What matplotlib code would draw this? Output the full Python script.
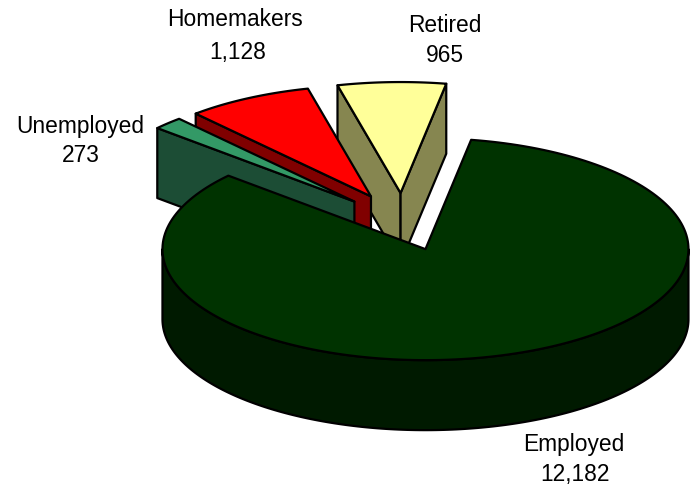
import numpy as np
import matplotlib
matplotlib.use("Agg")
import matplotlib.pyplot as plt
from matplotlib.patches import Polygon

plt.rcParams['font.family'] = ['Liberation Sans', 'DejaVu Sans']

names = ['Employed', 'Unemployed', 'Homemakers', 'Retired']
counts = [12182, 273, 1128, 965]

top_colors = ['#003300', '#339966', '#FF0000', '#FFFF99']
wall_colors = ['#001A00', '#1C4D35', '#800000', '#868650']

# pie geometry in pixels
cx, cy = 402.9, 222.9
rx, ry = 263, 111
depth = 70
explode = 0.26
start_angle = 80

fig = plt.figure(figsize=(6.9, 4.89), dpi=100)
ax = fig.add_axes([0, 0, 1, 1])
ax.set_xlim(0, 690)
ax.set_ylim(489, 0)
ax.axis('off')

total = sum(counts)
sweeps = [c / total * 360 for c in counts]
stops = start_angle - np.cumsum([0] + sweeps)


def arc(x0, y0, a1, a2):
    t = np.radians(np.linspace(a1, a2, 200))
    return np.column_stack([x0 + rx * np.cos(t), y0 - ry * np.sin(t)])


def face(pts, color):
    ax.add_patch(Polygon(pts, closed=True, facecolor=color, edgecolor='black',
                         linewidth=1.6, joinstyle='round'))


def draw_slice(i):
    a1, a2 = stops[i], stops[i + 1]
    mid = np.radians((a1 + a2) / 2)
    x0 = cx + explode * rx * np.cos(mid)
    y0 = cy - explode * ry * np.sin(mid)
    edge = arc(x0, y0, a1, a2)
    apex = np.array([x0, y0])
    down = np.array([0, depth])

    if i == 0:
        # only the front rim shows on the big slice
        rim = arc(x0, y0, -180, 0)
        face(np.vstack([rim, (rim + down)[::-1]]), wall_colors[i])
    elif i == 3:
        # retired shows both cut faces
        for corner in (edge[0], edge[-1]):
            face([apex, corner, corner + down, apex + down], wall_colors[i])
    else:
        corner = edge[0]
        face([apex, corner, corner + down, apex + down], wall_colors[i])
    face(np.vstack([apex, edge]), top_colors[i])


# back slices first, the big one goes over them
for i in [3, 2, 1, 0]:
    draw_slice(i)

label_pos = [(574, 445, 575, 475), (80.5, 126, 81, 156), (235, 20, 238, 52), (445, 26, 445, 55)]
for name, count, p in zip(names, counts, label_pos):
    ax.text(p[0], p[1], name, fontsize=16.4, ha='center', va='center', color='black')
    ax.text(p[2], p[3], f'{count:,}', fontsize=16.4, ha='center', va='center', color='black')

fig.savefig('out.png', dpi=100)
